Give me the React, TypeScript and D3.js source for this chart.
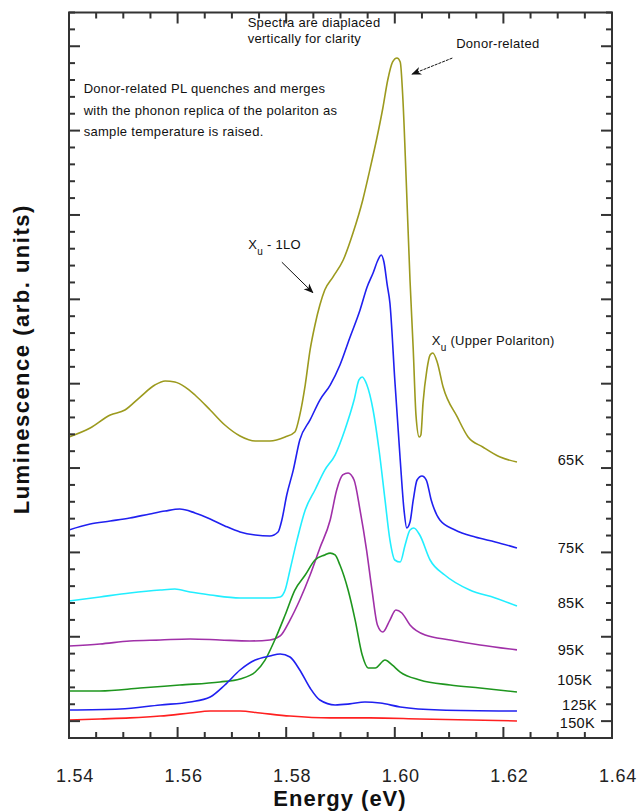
import React from "react";
import * as d3 from "d3";

// ---------- DATA ----------
const xTickLabels = ["1.54", "1.56", "1.58", "1.60", "1.62", "1.64"];

const e65 = [1.5400, 1.5439, 1.5476, 1.5503, 1.5531, 1.5558, 1.5577, 1.5595, 1.5614, 1.5632, 1.5660, 1.5687, 1.5715, 1.5743, 1.5770, 1.5798, 1.5816, 1.5825, 1.5835, 1.5844, 1.5853, 1.5862, 1.5871, 1.5886, 1.5905, 1.5923, 1.5941, 1.5954, 1.5967, 1.5978, 1.5987, 1.5996, 1.6004, 1.6010, 1.6015, 1.6021, 1.6028, 1.6034, 1.6039, 1.6045, 1.6048, 1.6052, 1.6059, 1.6065, 1.6070, 1.6078, 1.6089, 1.6115, 1.6135, 1.6162, 1.6194, 1.6225];
const l65 = [16.84, 17.37, 18.14, 18.44, 19.21, 19.92, 20.16, 20.10, 19.80, 19.33, 18.44, 17.55, 16.90, 16.60, 16.60, 16.84, 17.14, 18.14, 19.92, 22.00, 23.48, 24.66, 25.55, 26.32, 27.33, 28.93, 30.89, 32.67, 34.56, 36.34, 38.00, 39.07, 39.30, 39.07, 36.81, 32.07, 26.15, 22.00, 18.14, 16.84, 16.96, 18.86, 20.81, 21.70, 21.82, 21.29, 19.80, 18.03, 16.84, 16.25, 15.65, 15.36];

const e75 = [1.5400, 1.5439, 1.5476, 1.5512, 1.5549, 1.5577, 1.5604, 1.5632, 1.5660, 1.5687, 1.5715, 1.5743, 1.5770, 1.5785, 1.5792, 1.5801, 1.5813, 1.5825, 1.5844, 1.5862, 1.5881, 1.5899, 1.5917, 1.5936, 1.5949, 1.5960, 1.5969, 1.5975, 1.5980, 1.5986, 1.5991, 1.6000, 1.6010, 1.6017, 1.6022, 1.6028, 1.6034, 1.6041, 1.6050, 1.6058, 1.6067, 1.6083, 1.6111, 1.6148, 1.6185, 1.6225];
const l75 = [11.33, 11.68, 11.86, 12.04, 12.28, 12.45, 12.57, 12.34, 11.98, 11.57, 11.21, 11.03, 10.97, 11.21, 11.92, 13.40, 14.88, 16.66, 17.85, 19.03, 19.92, 21.11, 22.71, 24.37, 25.73, 26.56, 27.33, 27.63, 27.21, 25.85, 24.78, 20.22, 15.48, 12.51, 11.45, 11.80, 13.11, 14.29, 14.53, 14.29, 13.11, 11.92, 11.33, 10.91, 10.62, 10.26];

const e85 = [1.5400, 1.5457, 1.5512, 1.5568, 1.5595, 1.5623, 1.5660, 1.5715, 1.5770, 1.5789, 1.5798, 1.5807, 1.5820, 1.5835, 1.5853, 1.5871, 1.5890, 1.5908, 1.5925, 1.5934, 1.5940, 1.5948, 1.5960, 1.5971, 1.5982, 1.5991, 1.6000, 1.6010, 1.6019, 1.6028, 1.6035, 1.6046, 1.6065, 1.6092, 1.6138, 1.6185, 1.6225];
const l85 = [7.12, 7.36, 7.59, 7.77, 7.83, 7.65, 7.48, 7.30, 7.30, 7.36, 7.77, 8.96, 10.74, 12.51, 13.70, 14.88, 15.77, 17.26, 19.03, 20.22, 20.40, 19.98, 18.44, 16.07, 13.11, 10.74, 9.55, 9.43, 10.44, 11.33, 11.45, 11.03, 9.55, 8.66, 7.77, 7.30, 6.82];

const e95 = [1.5400, 1.5457, 1.5512, 1.5568, 1.5623, 1.5678, 1.5733, 1.5770, 1.5789, 1.5807, 1.5825, 1.5844, 1.5862, 1.5881, 1.5893, 1.5904, 1.5914, 1.5925, 1.5936, 1.5948, 1.5958, 1.5968, 1.5978, 1.5991, 1.6002, 1.6013, 1.6028, 1.6056, 1.6102, 1.6157, 1.6225];
const l95 = [4.45, 4.57, 4.75, 4.81, 4.87, 4.81, 4.75, 4.81, 5.05, 5.99, 7.18, 8.66, 10.26, 11.92, 13.70, 14.59, 14.71, 14.29, 12.51, 10.14, 7.77, 5.70, 5.28, 5.99, 6.59, 6.41, 5.70, 5.10, 4.81, 4.51, 4.22];

const e105 = [1.5400, 1.5457, 1.5531, 1.5604, 1.5678, 1.5715, 1.5743, 1.5761, 1.5779, 1.5798, 1.5816, 1.5835, 1.5853, 1.5871, 1.5881, 1.5890, 1.5899, 1.5914, 1.5927, 1.5940, 1.5951, 1.5964, 1.5982, 1.5995, 1.6010, 1.6046, 1.6102, 1.6157, 1.6225];
const l105 = [1.79, 1.79, 1.96, 2.14, 2.32, 2.50, 2.91, 3.62, 4.81, 6.29, 7.77, 8.66, 9.55, 9.85, 9.96, 9.85, 9.25, 7.77, 5.99, 3.92, 3.15, 3.15, 3.62, 3.33, 2.91, 2.44, 2.14, 1.96, 1.73];

const e125 = [1.5400, 1.5494, 1.5568, 1.5623, 1.5660, 1.5687, 1.5715, 1.5743, 1.5770, 1.5789, 1.5807, 1.5825, 1.5844, 1.5862, 1.5890, 1.5917, 1.5945, 1.5973, 1.6010, 1.6083, 1.6225];
const l125 = [0.66, 0.72, 0.96, 1.13, 1.43, 2.14, 3.03, 3.62, 3.86, 3.98, 3.80, 3.03, 1.96, 1.25, 0.96, 1.02, 1.13, 1.07, 0.84, 0.66, 0.60];

const e150 = [1.5400, 1.5457, 1.5512, 1.5568, 1.5623, 1.5660, 1.5715, 1.5752, 1.5807, 1.5881, 1.5954, 1.6046, 1.6225];
const l150 = [0.07, 0.13, 0.19, 0.30, 0.48, 0.60, 0.60, 0.48, 0.30, 0.19, 0.19, 0.13, 0.01];

const temps = ["65K", "75K", "85K", "95K", "105K", "125K", "150K"];
const energies = [e65, e75, e85, e95, e105, e125, e150];
const lums = [l65, l75, l85, l95, l105, l125, l150];

// label anchor positions (data coords)
const labelE = [1.6300, 1.6300, 1.6300, 1.6300, 1.6299, 1.6308, 1.6304];
const labelL = [15.18, 9.96, 6.71, 3.92, 2.14, 0.66, -0.41];

const colors = ["#9c9a1e", "#2020f0", "#22eeff", "#a030a8", "#1e961e", "#2020f0", "#ff2020"];

// ---------- LAYOUT ----------
const W = 641;
const H = 812;
const left = 69, right = 612, top = 12.5, bottom = 738;

const x = d3.scaleLinear().domain([1.54, 1.64]).range([left, right]);
const y = d3.scaleLinear().domain([-1, 42]).range([bottom, top]);

const FONT = "'Liberation Sans', Arial, sans-serif";

export default function App() {
  const line = d3
    .line<[number, number]>()
    .x((d) => x(d[0]))
    .y((d) => y(d[1]))
    .curve(d3.curveMonotoneX);

  const xMinor = d3.range(0, 21).map((i) => 1.54 + i * 0.005);
  const yMinor = d3.range(-1, 43);

  const axisColor = "#333";

  return (
    <svg
      width={W}
      height={H}
      style={{ position: "absolute", left: 0, top: 0, background: "#fff" }}
      fontFamily={FONT}
    >
      <rect x={0} y={0} width={W} height={H} fill="#fff" />

      {/* series */}
      {energies.map((es, k) => (
        <path
          key={temps[k]}
          d={line(es.map((e, i) => [e, lums[k][i]] as [number, number])) || ""}
          fill="none"
          stroke={colors[k]}
          strokeWidth={1.6}
          strokeLinejoin="round"
        />
      ))}

      {/* ticks */}
      {xMinor.map((v, i) => {
        const len = i % 4 === 0 ? 11 : 6;
        const px = x(v);
        return (
          <g key={"xt" + i}>
            <line x1={px} x2={px} y1={bottom} y2={bottom - len} stroke={axisColor} strokeWidth={2} />
            <line x1={px} x2={px} y1={top} y2={top + len} stroke={axisColor} strokeWidth={2} />
          </g>
        );
      })}
      {yMinor.map((v) => {
        const len = v % 5 === 0 ? 11 : 6;
        const py = y(v);
        return (
          <g key={"yt" + v}>
            <line x1={left} x2={left + len} y1={py} y2={py} stroke={axisColor} strokeWidth={2} />
            <line x1={right} x2={right - len} y1={py} y2={py} stroke={axisColor} strokeWidth={2} />
          </g>
        );
      })}

      {/* frame */}
      <rect x={left} y={top} width={right - left} height={bottom - top} fill="none" stroke={axisColor} strokeWidth={2} />

      {/* x tick labels */}
      {xTickLabels.map((t) => (
        <text key={t} x={x(+t) + 6} y={782} textAnchor="middle" fontSize={18} fill="#222" letterSpacing={0.8}>
          {t}
        </text>
      ))}

      {/* axis titles */}
      <text x={340} y={806} textAnchor="middle" fontSize={22} fontWeight="bold" fill="#111" letterSpacing={1}>
        Energy (eV)
      </text>
      <text
        transform={`translate(29, ${(top + bottom) / 2 - 16}) rotate(-90)`}
        textAnchor="middle"
        fontSize={22}
        fontWeight="bold"
        fill="#111"
        letterSpacing={1.5}
      >
        Luminescence (arb. units)
      </text>

      {/* temperature labels */}
      {temps.map((t, k) => (
        <text key={"lab" + t} x={x(labelE[k])} y={y(labelL[k])} fontSize={14.5} fill="#111" letterSpacing={0.3}>
          {t}
        </text>
      ))}

      {/* annotations */}
      <g fontSize={13} fill="#111" letterSpacing={0.3}>
        <text x={x(1.5729)} y={y(41.14)}>Spectra are diaplaced</text>
        <text x={x(1.5729)} y={y(40.19)}>vertically for clarity</text>
        <text x={x(1.6113)} y={y(39.9)}>Donor-related</text>
        <text x={x(1.5427)} y={y(37.2)}>Donor-related PL quenches and merges</text>
        <text x={x(1.5427)} y={y(35.95)}>with the phonon replica of the polariton as</text>
        <text x={x(1.5427)} y={y(34.7)}>sample temperature is raised.</text>
        <text x={x(1.5730)} y={y(27.98)}>
          X<tspan dy={6} fontSize={10}>u</tspan>
          <tspan dy={-6}> - 1LO</tspan>
        </text>
        <text x={x(1.6068)} y={y(22.29)}>
          X<tspan dy={6} fontSize={10}>u</tspan>
          <tspan dy={-6}> (Upper Polariton)</tspan>
        </text>
      </g>

      {/* arrows */}
      <defs>
        <marker id="ah" viewBox="0 0 10 10" refX={9} refY={5} markerWidth={10} markerHeight={10} orient="auto-start-reverse" markerUnits="userSpaceOnUse">
          <path d="M0,1 L10,5 L0,9 L3,5 Z" fill="#111" />
        </marker>
      </defs>
      <line x1={x(1.6106)} y1={y(39.3)} x2={x(1.6032)} y2={y(38.35)} stroke="#111" strokeWidth={1} strokeDasharray="3,1" markerEnd="url(#ah)" />
      <line x1={x(1.5792)} y1={y(27.2)} x2={x(1.5849)} y2={y(25.4)} stroke="#111" strokeWidth={1} markerEnd="url(#ah)" />
    </svg>
  );
}
